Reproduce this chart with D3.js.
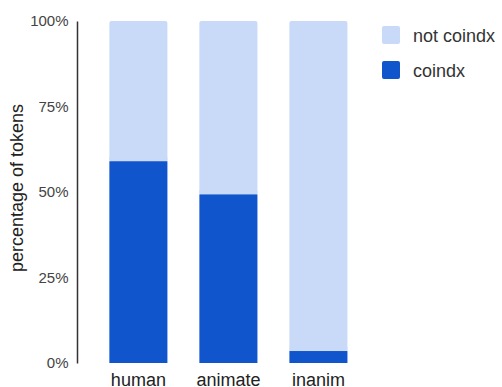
<!DOCTYPE html>
<html>
<head>
<meta charset="utf-8">
<script src="https://cdn.jsdelivr.net/npm/d3@7"></script>
<style>
  body { margin: 0; background: #fff; }
  text { font-family: "Liberation Sans", Arial, sans-serif; }
</style>
</head>
<body>
<svg id="chart" width="502" height="387"></svg>
<script>
const categories = ["human", "animate", "inanim"];
const coindx = [0.59, 0.493, 0.035];
const seriesNames = ["not coindx", "coindx"];
const yTicks = [0, 0.25, 0.5, 0.75, 1];

const svg = d3.select("#chart");
const colors = { "not coindx": "#c9daf8", "coindx": "#1155cc" };
const font = "'Liberation Sans', Arial, sans-serif";

const x = d3.scaleBand().domain(categories).range([77.4, 379.4]).padding(0.355);
const y = d3.scaleLinear().domain([0, 1]).range([363, 21]);

const data = categories.map((c, i) => ({ cat: c, coindx: coindx[i] }));

// not coindx (top part, rounded top)
svg.selectAll(".bg")
  .data(data)
  .join("rect")
  .attr("class", "bg")
  .attr("x", d => x(d.cat))
  .attr("y", y(1))
  .attr("width", x.bandwidth())
  .attr("height", d => y(d.coindx) - y(1))
  .attr("rx", 2)
  .attr("fill", colors["not coindx"]);

svg.selectAll(".bg2")
  .data(data)
  .join("rect")
  .attr("class", "bg2")
  .attr("x", d => x(d.cat))
  .attr("y", d => y(d.coindx) - 4)
  .attr("width", x.bandwidth())
  .attr("height", 4)
  .attr("fill", colors["not coindx"]);

svg.selectAll(".fg")
  .data(data)
  .join("rect")
  .attr("class", "fg")
  .attr("x", d => x(d.cat))
  .attr("y", d => y(d.coindx))
  .attr("width", x.bandwidth())
  .attr("height", d => y(0) - y(d.coindx))
  .attr("fill", colors["coindx"]);

// y axis
const yAxis = svg.append("g")
  .attr("transform", "translate(77,0)")
  .call(d3.axisLeft(y).tickValues(yTicks).tickFormat(d3.format(".0%")).tickSize(0).tickPadding(8.5));
yAxis.select(".domain").attr("stroke", "#333").attr("stroke-width", 1.5);
yAxis.selectAll("text").attr("font-size", 15).attr("fill", "#444")
  .style("font-family", font);

// x labels
const xAxis = svg.append("g")
  .attr("transform", "translate(0,363)")
  .call(d3.axisBottom(x).tickSize(0).tickPadding(10));
xAxis.select(".domain").remove();
xAxis.selectAll("text").attr("font-size", 18).attr("fill", "#222")
  .style("font-family", font);

// y title
svg.append("text")
  .attr("transform", "translate(23,188) rotate(-90)")
  .attr("text-anchor", "middle")
  .attr("font-size", 18)
  .attr("fill", "#222")
  .text("percentage of tokens");

// legend
const legend = svg.selectAll(".legend")
  .data(seriesNames)
  .join("g")
  .attr("class", "legend")
  .attr("transform", (d, i) => `translate(382,${26 + i * 35})`);

legend.append("rect")
  .attr("width", 18)
  .attr("height", 18)
  .attr("rx", 2)
  .attr("fill", d => colors[d]);

legend.append("text")
  .attr("x", 31)
  .attr("y", 15.5)
  .attr("font-size", 18)
  .attr("fill", "#333")
  .text(d => d);
</script>
</body>
</html>
